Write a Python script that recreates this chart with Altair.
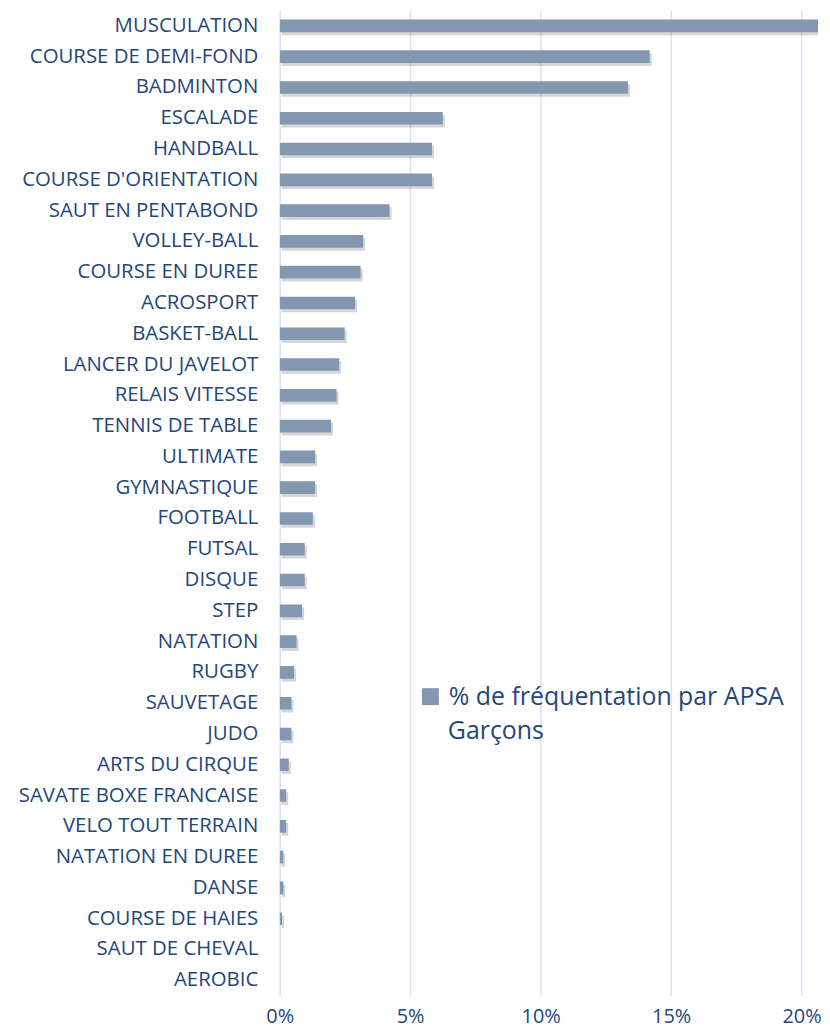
import altair as alt
import pandas as pd

categories = [
    "MUSCULATION", "COURSE DE DEMI-FOND", "BADMINTON", "ESCALADE", "HANDBALL",
    "COURSE D'ORIENTATION", "SAUT EN PENTABOND", "VOLLEY-BALL", "COURSE EN DUREE",
    "ACROSPORT", "BASKET-BALL", "LANCER DU JAVELOT", "RELAIS VITESSE",
    "TENNIS DE TABLE", "ULTIMATE", "GYMNASTIQUE", "FOOTBALL", "FUTSAL", "DISQUE",
    "STEP", "NATATION", "RUGBY", "SAUVETAGE", "JUDO", "ARTS DU CIRQUE",
    "SAVATE BOXE FRANCAISE", "VELO TOUT TERRAIN", "NATATION EN DUREE", "DANSE",
    "COURSE DE HAIES", "SAUT DE CHEVAL", "AEROBIC",
]
values = [
    21.5, 14.18, 13.35, 6.25, 5.84,
    5.84, 4.21, 3.20, 3.10,
    2.89, 2.49, 2.28, 2.18,
    1.97, 1.36, 1.36, 1.27, 0.96, 0.96,
    0.86, 0.65, 0.55, 0.45, 0.45, 0.35,
    0.25, 0.25, 0.14, 0.14,
    0.09, 0.0, 0.0,
]
series_line1 = "% de fréquentation par APSA"
series_line2 = "Garçons"
x_ticks = [0, 5, 10, 15, 20]

df = pd.DataFrame({"apsa": categories, "pct": values,
                   "serie": series_line1, "sexe": series_line2})

TEXT = "#24477A"
FONT = "Open Sans"
BAR = "#8497B0"

y_enc = alt.Y(
    "apsa:N", sort=categories, title=None,
    scale=alt.Scale(paddingInner=0.59, paddingOuter=0.295),
    axis=alt.Axis(domain=False, ticks=False, labelPadding=22, labelFontSize=20.5,
                  labelColor=TEXT, labelFont=FONT, labelLimit=300,
                  minExtent=273, maxExtent=273, grid=False),
)
x_scale = alt.Scale(domain=[0, 20.63], nice=False, zero=True)
x_axis = alt.Axis(values=x_ticks, labelExpr="datum.value + '%'",
                  domain=False, ticks=False, labelPadding=21,
                  labelBaseline="middle",
                  labelFontSize=20, labelColor=TEXT, labelFont=FONT,
                  grid=True, gridColor="#D9E2F3", gridWidth=1.5,
                  labelFlush=False)

common_legend = dict(orient="none", legendX=139, symbolType="square",
                     symbolStrokeWidth=0, labelFontSize=25,
                     labelColor=TEXT, labelFont=FONT,
                     labelLimit=500, labelBaseline="middle")

shadow = alt.Chart(df).mark_bar(clip=True, color="#000000", opacity=0.16,
                                xOffset=2, yOffset=3).encode(
    x=alt.X("pct:Q", scale=x_scale, title=None, axis=x_axis),
    y=y_enc,
)

bars = alt.Chart(df).mark_bar(clip=True).encode(
    x=alt.X("pct:Q", scale=x_scale, title=None, axis=x_axis),
    y=y_enc,
    color=alt.Color("serie:N", scale=alt.Scale(range=[BAR]), title=None,
                    legend=alt.Legend(legendY=677, symbolSize=289, labelOffset=6,
                                      **common_legend)),
    opacity=alt.Opacity("sexe:N", scale=alt.Scale(range=[1]), title=None,
                        legend=alt.Legend(legendY=712, symbolSize=0,
                                          symbolOpacity=0,
                                          symbolFillColor="transparent",
                                          labelOffset=5, **common_legend)),
)

chart = alt.layer(shadow, bars).properties(
    width=541, height=990,
    padding={"left": 0, "top": 0, "right": 0, "bottom": 0},
).configure_view(stroke=None)

chart.save("out.html", embed_options={"renderer": "svg", "actions": False})
